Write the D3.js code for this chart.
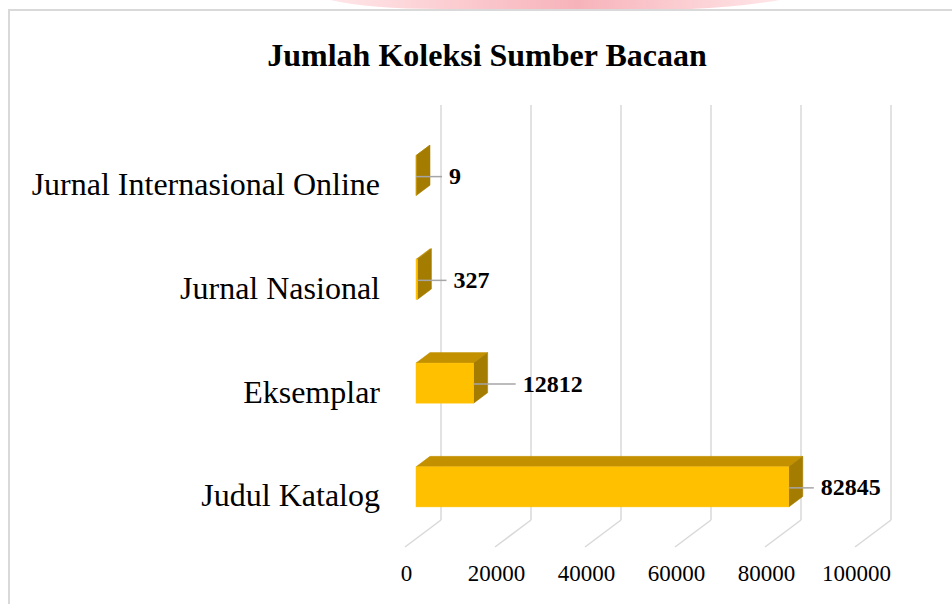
<!DOCTYPE html>
<html>
<head>
<meta charset="utf-8">
<script src="https://cdn.jsdelivr.net/npm/d3@7"></script>
<style>
  html, body { margin: 0; padding: 0; background: #fff; }
  svg { display: block; }
  text { font-family: "Liberation Serif", "Times New Roman", serif; }
</style>
</head>
<body>
<svg id="chart" width="952" height="604"></svg>
<script>
// ---- data ----
const categories = ["Judul Katalog", "Eksemplar", "Jurnal Nasional", "Jurnal Internasional Online"];
const values = [82845, 12812, 327, 9];
const tickValues = [0, 20000, 40000, 60000, 80000, 100000];
const tickLabels = ["0", "20000", "40000", "60000", "80000", "100000"];
const titleText = "Jumlah Koleksi Sumber Bacaan";

// ---- layout ----
const labelGaps = [32, 49, 36, 33];       // distance from bar end to data label
const W = 952, H = 604;
const DX = 36, DY = -27;                   // depth projection (full depth)
const D1 = 0.306, D2 = 0.694;              // bar front/back depth fractions

const svg = d3.select("#chart");

// top decorative shape
const defs = svg.append("defs");
const grad = defs.append("linearGradient").attr("id", "pinkGrad").attr("x1", "0").attr("x2", "1").attr("y1", "0").attr("y2", "0");
grad.append("stop").attr("offset", "0").attr("stop-color", "#ffe6e8");
grad.append("stop").attr("offset", "0.55").attr("stop-color", "#f7b3ba");
grad.append("stop").attr("offset", "1").attr("stop-color", "#ffe6e8");
svg.append("path")
  .attr("d", "M330,0 Q370,9 440,9 L690,9 Q740,7 780,0 Z")
  .attr("fill", "url(#pinkGrad)");

// chart border
svg.append("path")
  .attr("d", `M9,${H + 5} L9,10 L${W + 5},10`)
  .attr("fill", "none").attr("stroke", "#d9d9d9").attr("stroke-width", 2);

// scales (front plane, depth 0)
const x = d3.scaleLinear().domain([0, 100000]).range([405, 855]);
const y = d3.scaleBand().domain(categories).range([547, 132]).paddingInner(0).paddingOuter(0);
const barH = y.bandwidth() * 0.386;
const P = (v, yy, d) => [x(v) + DX * d, yy + DY * d];

// title
svg.append("text")
  .attr("x", 487).attr("y", 66)
  .attr("text-anchor", "middle")
  .attr("font-size", 32).attr("font-weight", "bold").attr("fill", "#000")
  .text(titleText);

// back wall gridlines and floor lines
const grid = svg.append("g");
tickValues.forEach(t => {
  const top = P(t, y.range()[1], 1);
  const bot = P(t, y.range()[0], 1);
  const front = P(t, y.range()[0], 0);
  grid.append("line")
    .attr("x1", top[0]).attr("y1", top[1]).attr("x2", bot[0]).attr("y2", bot[1])
    .attr("stroke", "#d9d9d9").attr("stroke-width", 1.5);
  grid.append("line")
    .attr("x1", bot[0]).attr("y1", bot[1]).attr("x2", front[0]).attr("y2", front[1])
    .attr("stroke", "#d9d9d9").attr("stroke-width", 1.5);
});

// tick labels
svg.append("g").selectAll("text").data(tickValues).join("text")
  .attr("x", d => x(d) + 1.5).attr("y", 581)
  .attr("text-anchor", "middle")
  .attr("font-size", 23).attr("fill", "#000")
  .text((d, i) => tickLabels[i]);

// category labels
svg.append("g").selectAll("text").data(categories).join("text")
  .attr("x", 380).attr("y", d => y(d) + y.bandwidth() / 2)
  .attr("dy", "0.35em")
  .attr("text-anchor", "end")
  .attr("font-size", 32).attr("fill", "#000")
  .text(d => d);

// bars
const bars = svg.append("g");
categories.forEach((c, i) => {
  const v = values[i];
  const cy = y(c) + y.bandwidth() / 2;
  const yt = cy - barH / 2, yb = cy + barH / 2;
  const poly = pts => pts.map(p => p.join(",")).join(" ");
  // top face
  bars.append("polygon")
    .attr("points", poly([P(0, yt, D1), P(v, yt, D1), P(v, yt, D2), P(0, yt, D2)]))
    .attr("fill", "#c39100").attr("stroke", "#c39100").attr("stroke-width", 0.5);
  // side face
  bars.append("polygon")
    .attr("points", poly([P(v, yt, D1), P(v, yb, D1), P(v, yb, D2), P(v, yt, D2)]))
    .attr("fill", "#a47c00").attr("stroke", "#a47c00").attr("stroke-width", 0.5);
  // front face
  const f0 = P(0, yt, D1), f1 = P(v, yb, D1);
  bars.append("rect")
    .attr("x", f0[0]).attr("y", f0[1])
    .attr("width", Math.max(0, f1[0] - f0[0])).attr("height", f1[1] - f0[1])
    .attr("fill", "#ffc000").attr("stroke", "#ffc000").attr("stroke-width", 0.5);

  // leader line + data label
  const end = P(v, cy, D1);
  const lx = end[0] + labelGaps[i];
  bars.append("line")
    .attr("x1", end[0]).attr("y1", end[1] + 1)
    .attr("x2", lx - 7).attr("y2", end[1] + 1)
    .attr("stroke", "#a6a6a6").attr("stroke-width", 1.5);
  bars.append("text")
    .attr("x", lx).attr("y", end[1])
    .attr("dy", "0.35em")
    .attr("font-size", 24).attr("font-weight", "bold").attr("fill", "#000")
    .text(v);
});
</script>
</body>
</html>
